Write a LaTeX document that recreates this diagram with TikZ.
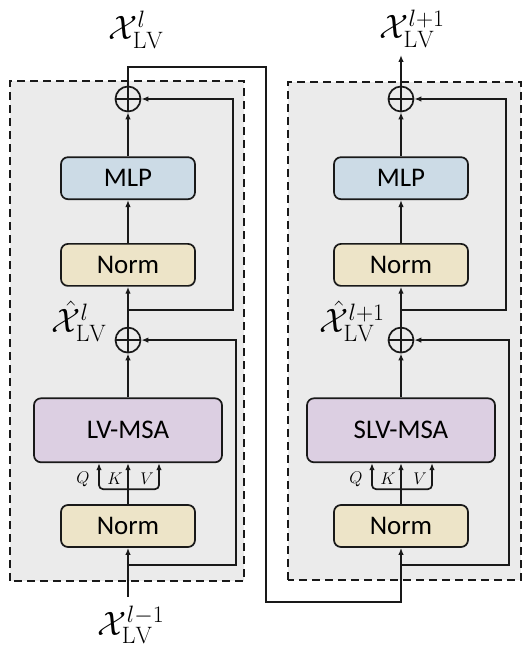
\RequirePackage{fix-cm}
\documentclass[tikz,border=0pt]{standalone}
\usepackage{fontspec}
\newfontfamily\boxfont{Carlito}
\usetikzlibrary{arrows.meta,positioning}

\definecolor{bggray}{RGB}{235,235,235}
\definecolor{mlpblue}{RGB}{204,219,230}
\definecolor{normtan}{RGB}{237,228,200}
\definecolor{msapurple}{RGB}{220,207,226}

\begin{document}
\begin{tikzpicture}[x=1bp,y=1bp,
    blk/.style={draw=black!90,line width=1.7bp,rounded corners=7bp,minimum width=134bp,minimum height=42bp,font={\boxfont\fontsize{27}{30}\selectfont}},
    plus/.style={circle,draw=black!90,line width=1.7bp,minimum size=25bp,inner sep=0pt,
      path picture={\draw[line width=1.7bp] (path picture bounding box.north) -- (path picture bounding box.south)
        (path picture bounding box.west) -- (path picture bounding box.east);}},
    arr/.style={draw=black!90,line width=1.7bp,-{Latex[length=7bp,width=5.5bp]}},
    blockbg/.style={fill=bggray,draw=black!90,line width=2.3bp,dash pattern=on 8bp off 5bp},
    lbl/.style={inner sep=0pt,font=\fontsize{34}{38}\selectfont},
    qkv/.style={inner sep=0pt,font=\fontsize{17}{19}\selectfont}
    ]
    \useasboundingbox (0,0) rectangle (532,648);

    \draw[blockbg] (10,67) rectangle (244,567);
    \draw[blockbg] (288,68) rectangle (521,566);

    \foreach \b/\x/\att/\hs in {a/128/LV-MSA/l,b/401/SLV-MSA/l+1} {
      \node (p1\b) [plus] at (\x,549) {};
      \node (mlp\b) [blk,fill=mlpblue,below=44bp of p1\b] {MLP};
      \node (nm2\b) [blk,fill=normtan,below=43bp of mlp\b] {Norm};
      \node (p2\b) [plus,below=40bp of nm2\b] {};
      \node (msa\b) [blk,fill=msapurple,minimum width=188bp,minimum height=64bp,below=44bp of p2\b] {\att};
      \node (nm1\b) [blk,fill=normtan,below=41bp of msa\b] {Norm};
      \node (h\b) [lbl] at ([shift={(-49,19)}]p2\b) {$\hat{\mathcal{X}}^{\hs}_{\mathrm{LV}}$};

      % Q, K, V
      \draw[arr] (nm1\b) -- (msa\b);
      \draw[arr,rounded corners=4bp] ([yshift=15bp]nm1\b.north) -| ([xshift=-29bp]msa\b.south);
      \draw[arr,rounded corners=4bp] ([yshift=15bp]nm1\b.north) -| ([xshift=31bp]msa\b.south);
      \node (q\b) [qkv] at ([shift={(-45,-16)}]msa\b.south) {$Q$};
      \node (k\b) [qkv] at ([shift={(-13,-16)}]msa\b.south) {$K$};
      \node (v\b) [qkv] at ([shift={(19,-16)}]msa\b.south) {$V$};

      \draw[arr] (msa\b) -- (p2\b);
      \draw[arr] (p2\b) -- (nm2\b);
      \draw[arr] (nm2\b) -- (mlp\b);
      \draw[arr] (mlp\b) -- (p1\b);

      % residuals
      \coordinate (s1\b) at ([yshift=17bp]p2\b.north);
      \draw[arr] (s1\b) -- ++(105,0) |- (p1\b);
      \coordinate (s2\b) at (\x,83);
      \draw[arr] (s2\b) -- ++(108,0) |- (p2\b);
    }

    \coordinate (in) at (128,51);
    \draw[arr] (in) -- (nm1a);
    \node (xin) [lbl] at (131,23) {$\mathcal{X}^{l-1}_{\mathrm{LV}}$};

    \node (xa) [lbl] at (136,618) {$\mathcal{X}^{l}_{\mathrm{LV}}$};
    \coordinate (ta) at (266,581);
    \coordinate (tb) at (266,46);
    \draw[arr] (p1a) |- (ta) -- (tb) -| (nm1b);

    \coordinate (out) at (401,593);
    \draw[arr] (p1b) -- (out);
    \node (xout) [lbl] at (412,619) {$\mathcal{X}^{l+1}_{\mathrm{LV}}$};

  \end{tikzpicture}
\end{document}
